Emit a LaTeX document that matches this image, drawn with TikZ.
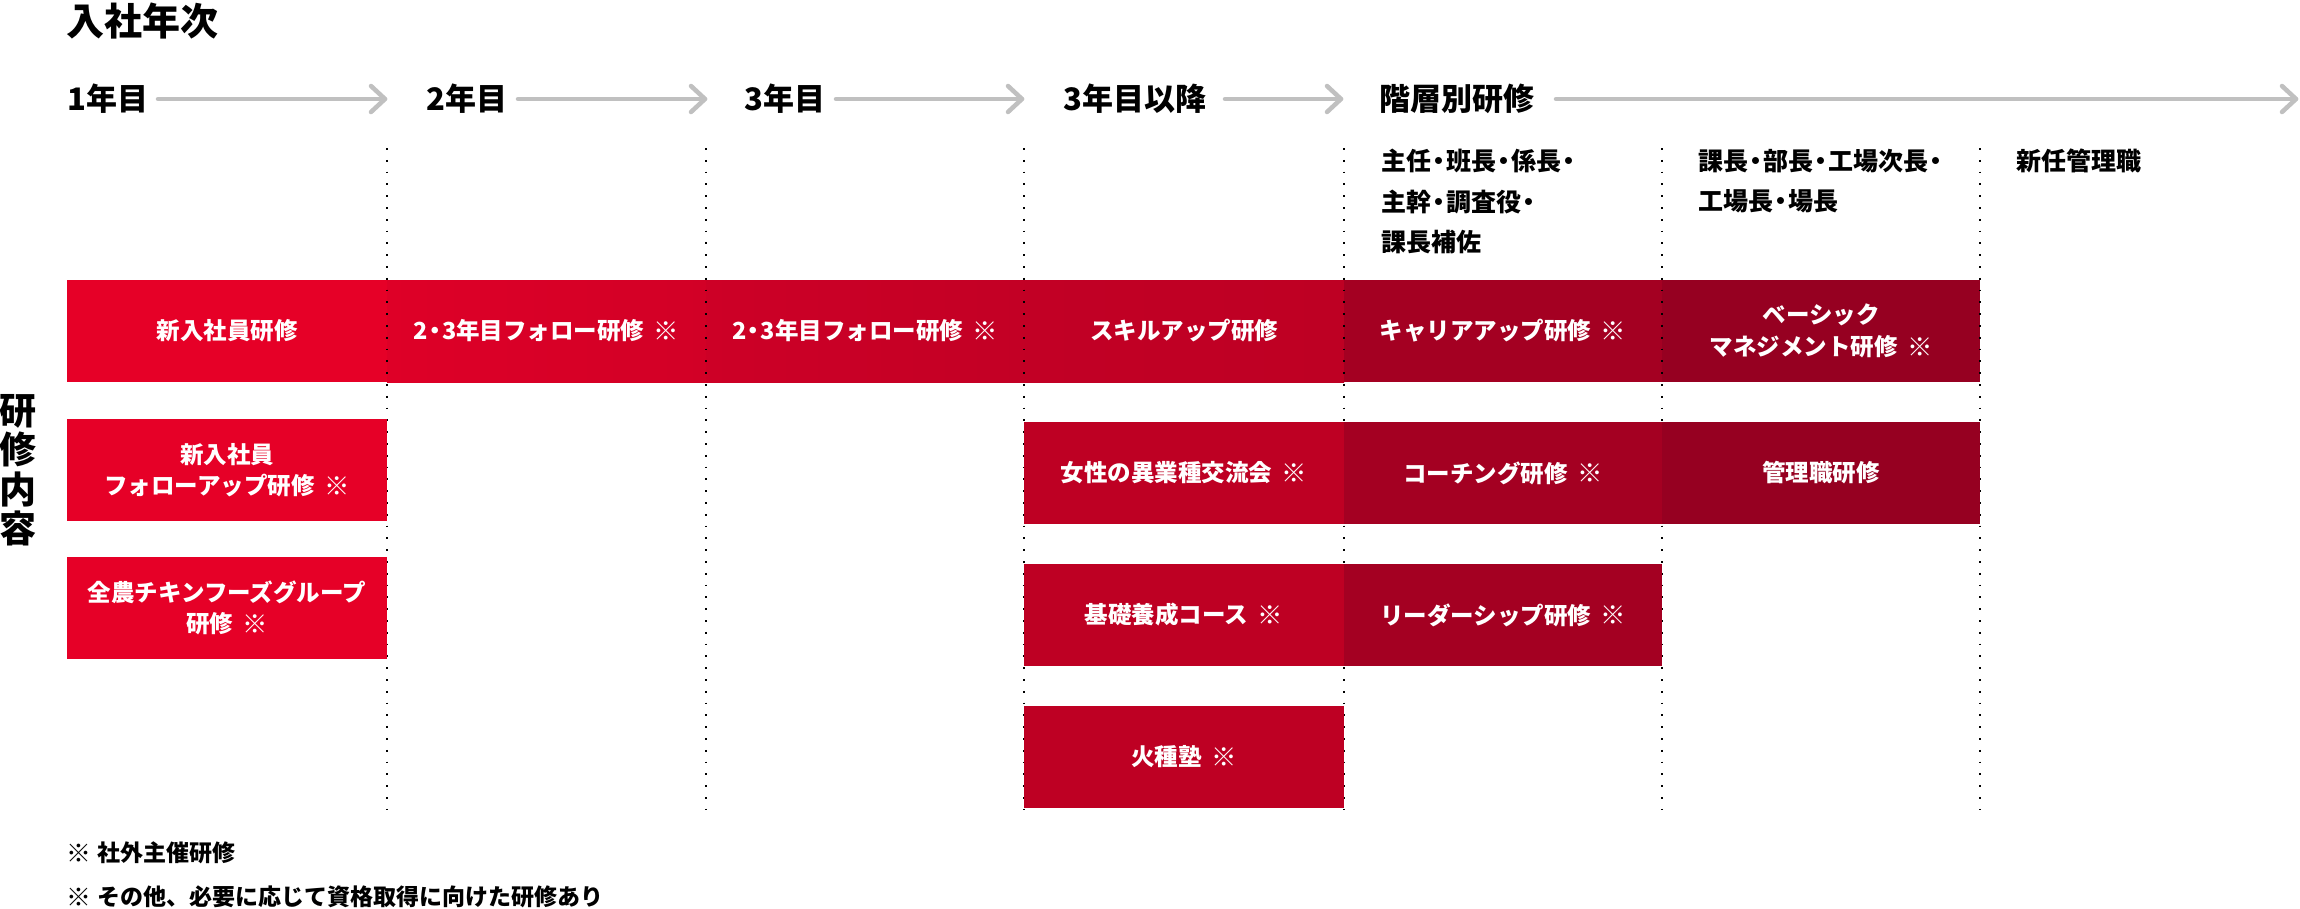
\documentclass[tikz,border=0pt]{standalone}
\usepackage{fontspec}
\usepackage{graphicx}
\setmainfont{Noto Sans CJK JP}
\definecolor{rA}{HTML}{E60027}
\definecolor{rB1}{HTML}{DE0027}
\definecolor{rB2}{HTML}{D20026}
\definecolor{rC1}{HTML}{CD0026}
\definecolor{rC2}{HTML}{C30025}
\definecolor{rD1}{HTML}{C20025}
\definecolor{rD}{HTML}{BE0023}
\definecolor{rE}{HTML}{A40022}
\definecolor{rF}{HTML}{960021}
\definecolor{arrgray}{HTML}{C0C0C0}
\newcommand\nk{\kern-.2em・\kern-.2em}
\newcommand\kmark{\raisebox{-.03em}{\scalebox{1.08}{※}}}
\newcommand\km{\hspace{.4em}\kmark}
\begin{document}
\begin{tikzpicture}[x=1pt,y=-1pt,
  box/.style={inner sep=0pt, minimum height=102pt, text=white, align=center,
    font=\bfseries\fontsize{23.5}{31.5}\selectfont},
  hdr/.style={anchor=west, inner sep=0pt, font=\bfseries\fontsize{31}{31}\selectfont},
  sublbl/.style={anchor=west, inner sep=0pt, align=left, font=\bfseries\fontsize{25}{40.5}\selectfont},
  fnote/.style={anchor=west, inner sep=0pt, font=\bfseries\fontsize{23}{23}\selectfont},
  arr/.style={draw=arrgray, line width=4.5pt, line cap=round, line join=round},
  dotl/.style={draw=black, line width=1.8pt, dash pattern=on 1.8pt off 10pt}]
\fill[white] (0,0) rectangle (2300,908);
\useasboundingbox (0,0) rectangle (2300,908);

% title and headers
\node[anchor=west, inner sep=0pt, font=\bfseries\fontsize{38}{38}\selectfont] (title) at (66,21) {入社年次};
\node[hdr] (h1) at (67,99) {1年目};
\node[hdr] (h2) at (426,99) {2年目};
\node[hdr] (h3) at (744,99) {3年目};
\node[hdr] (h4) at (1063,99) {3年目以降};
\node[hdr] (h5) at (1379,99) {階層別研修};

% arrows
\coordinate (as1) at (158,99);  \coordinate (at1) at (385,99);
\coordinate (as2) at (518,99);  \coordinate (at2) at (705,99);
\coordinate (as3) at (836,99);  \coordinate (at3) at (1022,99);
\coordinate (as4) at (1225,99); \coordinate (at4) at (1341,99);
\coordinate (as5) at (1556,99); \coordinate (at5) at (2296,99);
\foreach \i in {1,...,5}{
  \draw[arr] (as\i) -- (at\i);
  \draw[arr] (at\i) ++(-14,-13) -- (at\i) -- ++(-14,13);
}

% sub labels
\node[sublbl] (s1) at (1381,201.5) {主任\nk 班長\nk 係長\nk\\主幹\nk 調査役\nk\\課長補佐};
\node[sublbl] (s2) at (1698,181) {課長\nk 部長\nk 工場次長\nk\\工場長\nk 場長};
\node[sublbl] (s3) at (2016,161) {新任管理職};

% top row boxes
\node[box, minimum width=320pt, fill=rA] (t1) at (227,331) {新入社員研修};
\node[box, minimum width=319pt, left color=rB1, right color=rB2] (t2) at (546.5,331) {2\nk 3年目フォロー研修\km};
\node[box, minimum width=318pt, left color=rC1, right color=rC2] (t3) at (865,331) {2\nk 3年目フォロー研修\km};
\node[box, minimum width=320pt, left color=rD1, right color=rD] (t4) at (1184,331) {スキルアップ研修};
\node[box, minimum width=318pt, fill=rE] (t5) at (1503,331) {キャリアアップ研修\km};
\node[box, minimum width=318pt, fill=rF] (t6) at (1821,331) {ベーシック\\マネジメント研修\km};

% dotted column separators
\foreach \x [count=\k] in {387,706,1024,1344,1662,1980}{
  \coordinate (vt\k) at (\x,148);
  \coordinate (vb\k) at (\x,809);
  \draw[dotl] (vt\k) -- (vb\k);
}

% lower boxes
\node[box, minimum width=320pt, fill=rA] (m1) at (227,470) {新入社員\\フォローアップ研修\km};
\node[box, minimum width=320pt, fill=rA] (m2) at (227,608) {全農チキンフーズグループ\\研修\km};
\node[box, minimum width=320pt, fill=rD] (d1) at (1184,473) {女性の異業種交流会\km};
\node[box, minimum width=318pt, fill=rE] (e1) at (1503,473) {コーチング研修\km};
\node[box, minimum width=318pt, fill=rF] (g1) at (1821,473) {管理職研修};
\node[box, minimum width=320pt, fill=rD] (d2) at (1184,615) {基礎養成コース\km};
\node[box, minimum width=318pt, fill=rE] (e2) at (1503,615) {リーダーシップ研修\km};
\node[box, minimum width=320pt, fill=rD] (d3) at (1184,757) {火種塾\km};

% side label
\node[inner sep=0pt, align=center, font=\bfseries\fontsize{37}{39.5}\selectfont] (vl) at (17.5,470) {研\\修\\内\\容};

% footnotes
\node[fnote] (fn1) at (66,853) {\kmark\hspace{.3em}社外主催研修};
\node[fnote] (fn2) at (66,897) {\kmark\hspace{.3em}その他、必要に応じて資格取得に向けた研修あり};
\end{tikzpicture}
\end{document}
